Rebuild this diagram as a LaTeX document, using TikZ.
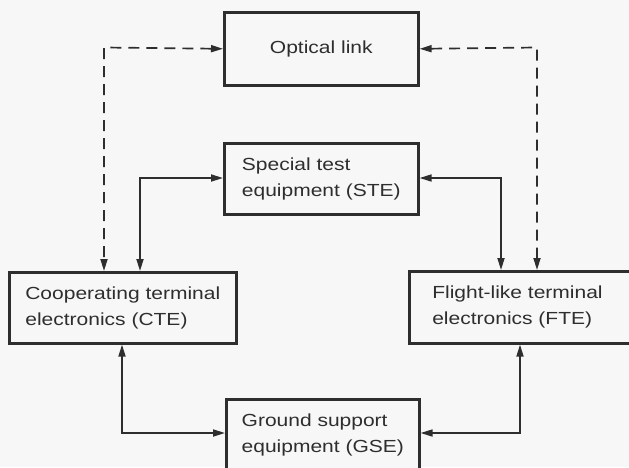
\documentclass[tikz,border=0pt]{standalone}
\usepackage{fontspec}
\setmainfont{Liberation Sans}[FakeStretch=1.2]
\usetikzlibrary{arrows.meta}
\definecolor{ink}{HTML}{2E2E2E}
\definecolor{paper}{HTML}{F7F7F7}
\begin{document}
\begin{tikzpicture}[x=1pt,y=-1pt,
  box/.style={draw=ink, line width=2.6pt, fill=paper, text=ink, align=left,
    anchor=north west, font=\fontsize{17.5}{26}\selectfont, inner sep=0pt},
  link/.style={draw=ink, line width=1.7pt, {Triangle[length=12pt,width=7pt]}-{Triangle[length=12pt,width=7pt]}},
  dashlink/.style={link, dash pattern=on 11pt off 7pt}]
  \useasboundingbox (0,0) rectangle (629,467);
  \fill[paper] (0,0) rectangle (629,467);
  \clip (0,0) rectangle (629,467);

  % blocks
  \node[box, minimum width=194pt, minimum height=73pt] (opt) at (223,11) {Optical link};
  \node[box, minimum width=194pt, minimum height=71pt] (ste) at (223,142) {Special test\\equipment (STE)};
  \node[box, minimum width=227pt, minimum height=71pt] (cte) at (8,271) {Cooperating terminal\\electronics (CTE)};
  \node[box, minimum height=72pt, inner xsep=23pt, text width=200pt] (fte) at (408,270) {Flight-like terminal\\electronics (FTE)};
  \node[box, minimum width=193pt, minimum height=71pt] (gse) at (225,398) {Ground support\\equipment (GSE)};

  % bend points
  \coordinate (optL) at (104,47.5);
  \coordinate (optR) at (537,47.5);
  \coordinate (steL) at (140,178);
  \coordinate (steR) at (501,178);
  \coordinate (gseL) at (122,433);
  \coordinate (gseR) at (520,433);

  % optical link paths
  \draw[dashlink] (opt.west) -- (optL) -- (optL |- cte.north);
  \draw[dashlink] (opt.east) -- (optR) -- (optR |- fte.north);

  % test equipment paths
  \draw[link] (ste.west |- steL) -- (steL) -- (steL |- cte.north);
  \draw[link] (ste.east |- steR) -- (steR) -- (steR |- fte.north);

  % ground support paths
  \draw[link] (gse.west |- gseL) -- (gseL) -- (gseL |- cte.south);
  \draw[link] (gse.east |- gseR) -- (gseR) -- (gseR |- fte.south);
\end{tikzpicture}
\end{document}
